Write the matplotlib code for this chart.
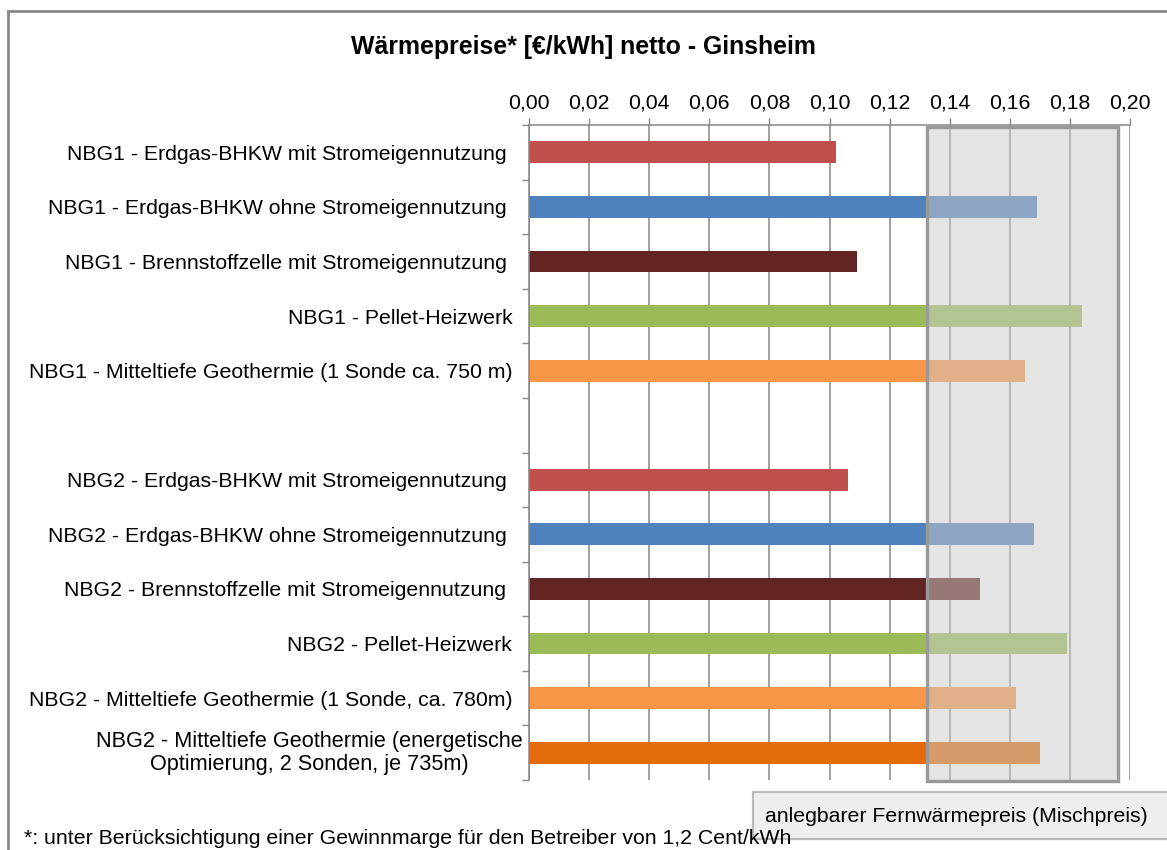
import matplotlib.pyplot as plt
import matplotlib.patches as mpatches
from matplotlib.lines import Line2D
import numpy as np

plt.rcParams['font.family'] = ['Liberation Sans', 'DejaVu Sans']

# heat price per variant in EUR/kWh (empty slot separates the two grids)
labels = [
    'NBG1 - Erdgas-BHKW mit Stromeigennutzung ',
    'NBG1 - Erdgas-BHKW ohne Stromeigennutzung ',
    'NBG1 - Brennstoffzelle mit Stromeigennutzung ',
    'NBG1 - Pellet-Heizwerk',
    'NBG1 - Mitteltiefe Geothermie (1 Sonde ca. 750 m)',
    '',
    'NBG2 - Erdgas-BHKW mit Stromeigennutzung ',
    'NBG2 - Erdgas-BHKW ohne Stromeigennutzung ',
    'NBG2 - Brennstoffzelle mit Stromeigennutzung ',
    'NBG2 - Pellet-Heizwerk',
    'NBG2 - Mitteltiefe Geothermie (1 Sonde, ca. 780m)',
    'NBG2 - Mitteltiefe Geothermie (energetische\nOptimierung, 2 Sonden, je 735m)',
]
prices = [0.102, 0.169, 0.109, 0.184, 0.165, np.nan,
          0.106, 0.168, 0.150, 0.179, 0.162, 0.170]
colors = ['#C0504D', '#4F81BD', '#632523', '#9BBB59', '#F79646', 'none',
          '#C0504D', '#4F81BD', '#632523', '#9BBB59', '#F79646', '#E46C0A']

# range of the district heating mixed price
mix_low = 0.1323
mix_high = 0.196

xticks = np.arange(0, 0.201, 0.02)
fs = 15.3

fig = plt.figure(figsize=(11.67, 8.5), dpi=100)
ax = fig.add_axes([529 / 1167, 1 - 780 / 850, 601 / 1167, 655 / 850])

y = np.arange(len(labels))
ax.barh(y, np.nan_to_num(prices), height=0.4, color=colors, zorder=2)

ax.set_xlim(0, 0.2)
ax.set_ylim(len(labels) - 0.5, -0.5)

ax.set_xticks(xticks)
ax.set_xticklabels([f'{v:.2f}'.replace('.', ',') for v in xticks])
ax.xaxis.tick_top()
ax.tick_params(axis='x', direction='out', length=5, width=1, color='#868686',
               labelsize=fs, pad=4)
ax.grid(axis='x', color='#868686', linewidth=1.1, zorder=1)

# the two-line label sits closer to the axis, drawn separately below
ax.set_yticks(y)
ax.set_yticklabels(labels[:-1] + [''], fontsize=fs)
ax.set_yticks(np.arange(-0.5, len(labels)), minor=True)
ax.tick_params(axis='y', which='major', length=0, pad=12)
ax.tick_params(axis='y', which='minor', direction='out', length=5, width=1,
               color='#868686')
ax.text(-6 / 601, y[-1], labels[-1], transform=ax.get_yaxis_transform(),
        ha='right', va='center', multialignment='center', fontsize=fs + 0.3,
        linespacing=1.12)

for side in ['right', 'bottom']:
    ax.spines[side].set_visible(False)
for side in ['left', 'top']:
    ax.spines[side].set_color('#868686')
    ax.spines[side].set_linewidth(1.1)

# translucent overlay marking the mixed price band
band = mpatches.Rectangle((mix_low, -0.47), mix_high - mix_low, len(labels) - 0.02,
                          facecolor=(0.796, 0.796, 0.796, 0.5),
                          edgecolor='#999999', linewidth=2.4, zorder=4,
                          clip_on=False)
ax.add_patch(band)

fig.text(0.5, 1 - 47 / 850, 'Wärmepreise* [€/kWh] netto - Ginsheim',
         ha='center', va='center', fontsize=17.9, fontweight='bold')

# legend box for the band
fig.patches.append(mpatches.Rectangle((753 / 1167, 1 - 839 / 850), 0.4, 47 / 850,
                                      transform=fig.transFigure,
                                      facecolor='#EEEFF1', edgecolor='#BBBBBB',
                                      linewidth=1.6))
fig.text(765 / 1167, 1 - 816 / 850, 'anlegbarer Fernwärmepreis (Mischpreis)',
         ha='left', va='center', fontsize=fs)

fig.text(24 / 1167, 1 - 838 / 850,
         '*: unter Berücksichtigung einer Gewinnmarge für den Betreiber von 1,2 Cent/kWh',
         ha='left', va='center', fontsize=fs)

# chart frame
fig.lines.append(Line2D([8 / 1167, 8 / 1167], [0, 1 - 11 / 850],
                        transform=fig.transFigure, color='#888888', linewidth=2))
fig.lines.append(Line2D([8 / 1167, 1], [1 - 11 / 850, 1 - 11 / 850],
                        transform=fig.transFigure, color='#888888', linewidth=2))

fig.savefig('out.png', dpi=100)
